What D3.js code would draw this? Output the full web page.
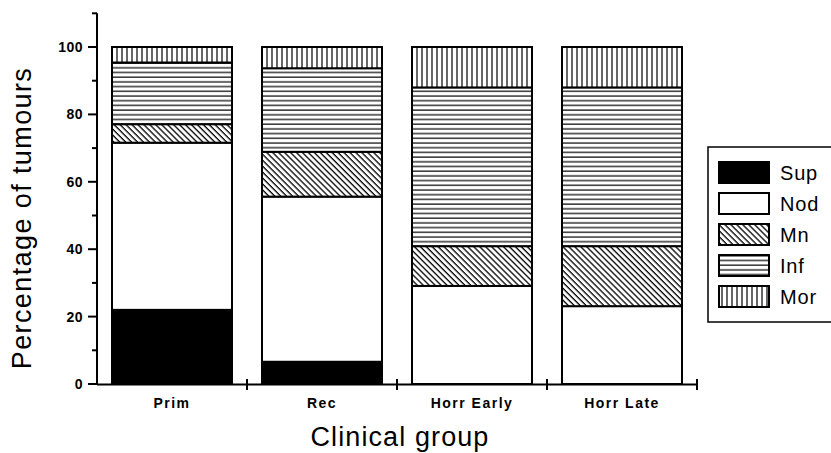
<!DOCTYPE html>
<html><head><meta charset="utf-8">
<script src="https://cdn.jsdelivr.net/npm/d3@7"></script>
<style>body{margin:0;background:#fff}svg{display:block}text{font-family:"Liberation Sans",Arial,Helvetica,sans-serif;fill:#000}</style>
</head><body><svg id="c" width="831" height="453"></svg>
<script>
const categories = ["Prim", "Rec", "Horr Early", "Horr Late"];
const seriesNames = ["Sup", "Nod", "Mn", "Inf", "Mor"];
const sup = [22.0, 6.6, 0, 0];
const nod = [49.6, 49.0, 29.1, 23.1];
const mn  = [5.5, 13.3, 11.8, 17.8];
const inf = [18.3, 24.8, 47.1, 47.1];
const mor = [4.6, 6.3, 12.0, 12.0];
const yTicks = [0, 10, 20, 30, 40, 50, 60, 70, 80, 90, 100, 110];
const yLabels = [0, 20, 40, 60, 80, 100];

const rows = categories.map((c, i) => ({cat: c, Sup: sup[i], Nod: nod[i], Mn: mn[i], Inf: inf[i], Mor: mor[i]}));
const svg = d3.select("#c");
const defs = svg.append("defs");
defs.append("pattern").attr("id", "p-Mn").attr("patternUnits", "userSpaceOnUse")
  .attr("width", 4.2).attr("height", 10).attr("patternTransform", "rotate(-45)")
  .call(p => { p.append("rect").attr("width", 4.2).attr("height", 10).attr("fill", "#fff");
               p.append("line").attr("x1", 1).attr("x2", 1).attr("y1", 0).attr("y2", 10).attr("stroke", "#000").attr("stroke-width", 1.3); });
defs.append("pattern").attr("id", "p-Inf").attr("patternUnits", "userSpaceOnUse")
  .attr("width", 10).attr("height", 4.7)
  .call(p => { p.append("rect").attr("width", 10).attr("height", 4.7).attr("fill", "#fff");
               p.append("line").attr("x1", 0).attr("x2", 10).attr("y1", 2).attr("y2", 2).attr("stroke", "#000").attr("stroke-width", 1.2); });
defs.append("pattern").attr("id", "p-Mor").attr("patternUnits", "userSpaceOnUse")
  .attr("width", 5).attr("height", 10)
  .call(p => { p.append("rect").attr("width", 5).attr("height", 10).attr("fill", "#fff");
               p.append("line").attr("x1", 2).attr("x2", 2).attr("y1", 0).attr("y2", 10).attr("stroke", "#000").attr("stroke-width", 1.2); });
const fills = {Sup: "#000", Nod: "#fff", Mn: "url(#p-Mn)", Inf: "url(#p-Inf)", Mor: "url(#p-Mor)"};

const x = d3.scaleBand().domain(categories).range([97, 697]).padding(0);
const y = d3.scaleLinear().domain([0, 110]).range([384, 13.3]);
const barW = x.bandwidth() * 0.8, barOff = x.bandwidth() * 0.1;

const stack = d3.stack().keys(seriesNames)(rows);
const g = svg.append("g");
stack.forEach(layer => {
  g.selectAll(null).data(layer.filter(d => d[1] - d[0] > 0)).join("rect")
    .attr("x", d => x(d.data.cat) + barOff)
    .attr("width", barW)
    .attr("y", d => y(d[1]))
    .attr("height", d => y(d[0]) - y(d[1]))
    .attr("fill", fills[layer.key])
    .attr("stroke", "#000").attr("stroke-width", 2);
});

// y axis
const ya = svg.append("g").attr("transform", "translate(97,0)");
ya.append("line").attr("y1", y(0)).attr("y2", y(110)).attr("stroke", "#000").attr("stroke-width", 2);
ya.selectAll(null).data(yTicks).join("line")
  .attr("x1", d => yLabels.includes(d) ? -9 : -5).attr("x2", 0)
  .attr("y1", d => y(d)).attr("y2", d => y(d)).attr("stroke", "#000").attr("stroke-width", 2);
ya.selectAll(null).data(yLabels).join("text")
  .attr("x", -14).attr("y", d => y(d)).attr("dy", "0.36em")
  .attr("text-anchor", "end").attr("font-size", 14).attr("font-weight", "bold").attr("letter-spacing", 0.5).text(d => d);

// x axis
const xa = svg.append("g");
xa.append("line").attr("x1", 97).attr("x2", 697).attr("y1", 384.5).attr("y2", 384.5).attr("stroke", "#000").attr("stroke-width", 2);
const bounds = categories.map(c => x(c)).concat([x(categories[categories.length - 1]) + x.bandwidth()]);
xa.selectAll(null).data(bounds.slice(1)).join("line")
  .attr("x1", d => d).attr("x2", d => d).attr("y1", 379).attr("y2", 390).attr("stroke", "#000").attr("stroke-width", 2);
xa.selectAll(null).data(categories).join("text")
  .attr("x", d => x(d) + x.bandwidth() / 2).attr("y", 408)
  .attr("text-anchor", "middle").attr("font-size", 14).attr("font-weight", "bold").attr("letter-spacing", 1.5).text(d => d);

// titles
svg.append("text").attr("x", 400).attr("y", 446).attr("text-anchor", "middle").attr("font-size", 27).attr("letter-spacing", 1.1).text("Clinical group");
svg.append("text").attr("transform", "translate(31,218) rotate(-90)").attr("text-anchor", "middle").attr("font-size", 27).attr("letter-spacing", 1.4).text("Percentage of tumours");

// legend
const lg = svg.append("g");
lg.append("rect").attr("x", 708).attr("y", 147).attr("width", 130).attr("height", 175).attr("fill", "#fff").attr("stroke", "#000").attr("stroke-width", 1.5);
seriesNames.forEach((s, i) => {
  const yy = 162 + i * 31;
  lg.append("rect").attr("x", 719).attr("y", yy).attr("width", 50).attr("height", 21)
    .attr("fill", fills[s]).attr("stroke", "#000").attr("stroke-width", 2);
  lg.append("text").attr("x", 780).attr("y", yy + 10.5).attr("dy", "0.36em").attr("font-size", 20).attr("letter-spacing", 0.8).text(s);
});
</script></body></html>
